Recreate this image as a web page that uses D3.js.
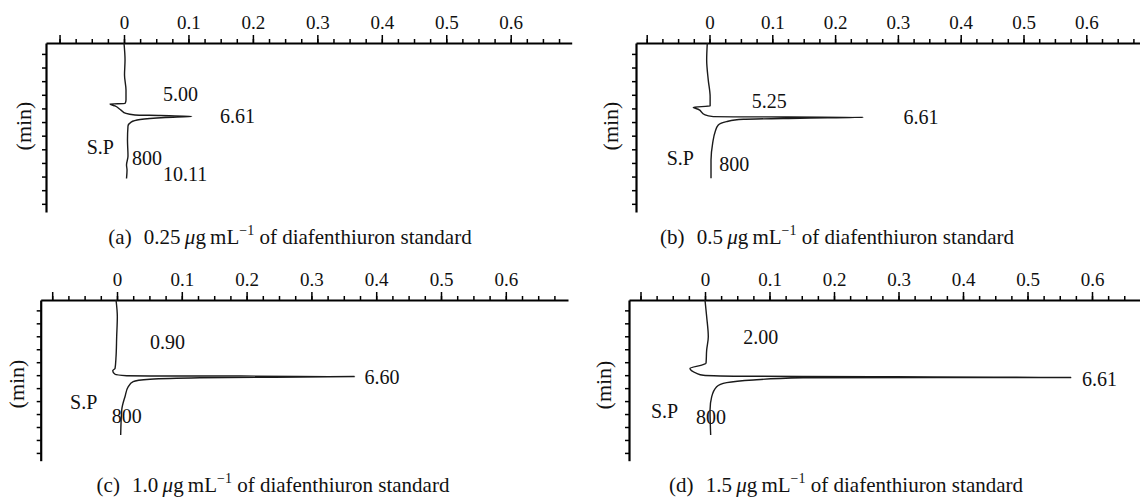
<!DOCTYPE html>
<html>
<head>
<meta charset="utf-8">
<script src="https://cdn.jsdelivr.net/npm/d3@7"></script>
<style>
  html, body { margin: 0; padding: 0; background: #fff; }
  svg { display: block; }
  text { font-family: "Liberation Serif", "Times New Roman", serif; fill: #111; }
</style>
</head>
<body>
<svg id="chart" width="1140" height="500"></svg>
<script>
// ---------------- data ----------------
const xTickValues = [-0.1, 0, 0.1, 0.2, 0.3, 0.4, 0.5, 0.6];
const xTickLabels = ["", "0", "0.1", "0.2", "0.3", "0.4", "0.5", "0.6"];
const yTickValues = [1, 2, 3, 4, 5, 6, 7, 8, 9, 10, 11, 12];

const panelLetters = ["(a)", "(b)", "(c)", "(d)"];
const concentrations = ["0.25", "0.5", "1.0", "1.5"];

// trace a : signal vs time (axis units)
const signalA = [0, 0.0016, 0.0008, 0.0031, 0.0031, 0.0016, -0.0217, -0.014, -0.0047, 0.0031, 0.017, 0.056, 0.105, 0.064, 0.025, 0.011, 0.0062, 0.0054, 0.0062, 0.0039, 0.0047, 0.0039];
const timeA   = [0.2, 1.45, 2.55, 3.65, 4.38, 4.64, 4.68, 4.82, 5.12, 5.37, 5.48, 5.52, 5.59, 5.67, 5.81, 6.0, 6.29, 7.32, 8.49, 9.15, 9.52, 10.14];

const signalB = [-0.0035, -0.0045, -0.002, 0.001, 0.001, -0.026, -0.018, -0.007, 0.006, 0.245, 0.144, 0.054, 0.027, 0.014, 0.009, 0.005, 0.0024, 0.0024];
const timeB   = [0.2, 1.45, 2.91, 4.14, 4.82, 4.92, 5.06, 5.48, 5.60, 5.65, 5.72, 5.80, 5.97, 6.22, 6.71, 7.56, 8.78, 10.13];

const signalC = [-0.0015, 0.0005, -0.0005, -0.0015, -0.003, -0.0066, -0.003, 0.015, 0.3665, 0.128, 0.051, 0.025, 0.0174, 0.0123, 0.0073, 0.0057];
const timeC   = [0.2, 1.49, 3.03, 4.58, 5.47, 5.66, 5.93, 6.04, 6.10, 6.20, 6.32, 6.50, 6.89, 7.66, 8.69, 10.62];

const signalD = [0, 0.0026, 0.0051, 0.0026, 0.0016, -0.0051, -0.0233, -0.0129, -0.0026, 0.0233, 0.5674, 0.152, 0.0749, 0.0336, 0.0181, 0.0104, 0.0078, 0.0088];
const timeD   = [0.2, 1.49, 3.03, 4.06, 5.08, 5.22, 5.47, 5.86, 6.01, 6.06, 6.18, 6.20, 6.37, 6.58, 6.89, 7.66, 8.69, 10.62];

const labelsA = ["5.00", "6.61", "S.P", "800", "10.11"];
const labelsB = ["5.25", "6.61", "S.P", "800"];
const labelsC = ["0.90", "6.60", "S.P", "800"];
const labelsD = ["2.00", "6.61", "S.P", "800"];

// ---------------- layout ----------------
const panels = [
  { signal: signalA, time: timeA, labels: labelsA,
    left: 46, right: 571.7, top: 43, bottom: 212, x0: 124, ppu: 644.5,
    minX: 23, minY: 126, capX: 290, capY: 244,
    labelPos: [[0.0605, 4.49], [0.149, 6.07], [-0.0579, 8.34], [0.0124, 9.15], [0.0605, 10.36]] },
  { signal: signalB, time: timeB, labels: labelsB,
    left: 636, right: 1150, top: 43, bottom: 212, x0: 709.5, ppu: 628,
    minX: 610, minY: 126, capX: 837, capY: 244,
    labelPos: [[0.0672, 4.99], [0.309, 6.14], [-0.0682, 9.15], [0.0156, 9.57]] },
  { signal: signalC, time: timeC, labels: labelsC,
    left: 40.7, right: 568, top: 300, bottom: 460.7, x0: 117, ppu: 648,
    minX: 16, minY: 384, capX: 273, capY: 492,
    labelPos: [[0.0509, 3.98], [0.382, 6.68], [-0.0725, 8.63], [-0.0082, 9.71]] },
  { signal: signalD, time: timeD, labels: labelsD,
    left: 629, right: 1150, top: 300, bottom: 460.7, x0: 705, ppu: 645,
    minX: 603, minY: 385, capX: 846, capY: 492,
    labelPos: [[0.0594, 3.6], [0.5845, 6.84], [-0.0837, 9.33], [-0.014, 9.77]] }
];

const svg = d3.select("#chart");
const FS = 19;
const ANN_FS = 20;
const CAP_FS = 21;

panels.forEach((p, i) => {
  const x = d3.scaleLinear()
    .domain([(p.left - p.x0) / p.ppu, (p.right - p.x0) / p.ppu])
    .range([p.left, p.right]);
  const y = d3.scaleLinear().domain([0.2, 12.6]).range([p.top, p.bottom]);

  const g = svg.append("g");

  // minor ticks on top axis
  const xd = x.domain();
  const minor = d3.range(-0.1, xd[1] + 1e-9, 0.025)
    .map(v => Math.round(v * 1000) / 1000)
    .filter(v => v >= xd[0]);
  const minorAxis = g.append("g")
    .attr("transform", `translate(0,${p.top})`)
    .call(d3.axisTop(x).tickValues(minor).tickSize(4).tickSizeOuter(0).tickFormat(""));
  minorAxis.select(".domain").remove();
  minorAxis.selectAll("line").attr("stroke", "#000").attr("stroke-width", 1.5);

  // major ticks with labels
  const majorAxis = g.append("g")
    .attr("transform", `translate(0,${p.top})`)
    .call(d3.axisTop(x).tickValues(xTickValues).tickSize(8).tickSizeOuter(0).tickPadding(6)
      .tickFormat((d, k) => xTickLabels[k]));
  majorAxis.select(".domain").attr("stroke", "#000").attr("stroke-width", 2.2);
  majorAxis.selectAll("line").attr("stroke", "#000").attr("stroke-width", 1.5);
  majorAxis.selectAll("text")
    .style("font-family", '"Liberation Serif", serif')
    .attr("font-size", FS).attr("fill", "#111");

  // left axis
  const leftAxis = g.append("g")
    .attr("transform", `translate(${p.left},0)`)
    .call(d3.axisLeft(y).tickValues(yTickValues).tickSize(4).tickSizeOuter(0).tickFormat(""));
  leftAxis.select(".domain").attr("stroke", "#000").attr("stroke-width", 2.2);
  leftAxis.selectAll("line").attr("stroke", "#000").attr("stroke-width", 1.5);

  // (min) label
  g.append("text")
    .attr("transform", `translate(${p.minX},${p.minY}) rotate(-90)`)
    .attr("text-anchor", "middle")
    .attr("dominant-baseline", "central")
    .attr("font-size", 22)
    .text("(min)");

  // trace
  const pts = p.signal.map((s, k) => [s, p.time[k]]);
  const line = d3.line()
    .x(d => x(d[0]))
    .y(d => y(d[1]))
    .curve(d3.curveMonotoneY);
  g.append("path")
    .datum(pts)
    .attr("d", line)
    .attr("fill", "none")
    .attr("stroke", "#1a1a1a")
    .attr("stroke-width", 1.4)
    .attr("stroke-linejoin", "round");

  // annotations
  p.labels.forEach((t, k) => {
    g.append("text")
      .attr("x", x(p.labelPos[k][0]))
      .attr("y", y(p.labelPos[k][1]))
      .attr("font-size", ANN_FS)
      .text(t);
  });

  // caption
  const cap = g.append("text")
    .attr("x", p.capX).attr("y", p.capY)
    .attr("text-anchor", "middle")
    .attr("font-size", CAP_FS);
  cap.append("tspan").text(panelLetters[i] + "\u2002\u200a" + concentrations[i] + "\u2009");
  cap.append("tspan").attr("font-style", "italic").text("\u03bc");
  cap.append("tspan").text("g\u2009mL");
  cap.append("tspan").attr("font-size", 14).attr("dy", -9).text("\u22121");
  cap.append("tspan").attr("dy", 9).text(" of diafenthiuron standard");
});
</script>
</body>
</html>
